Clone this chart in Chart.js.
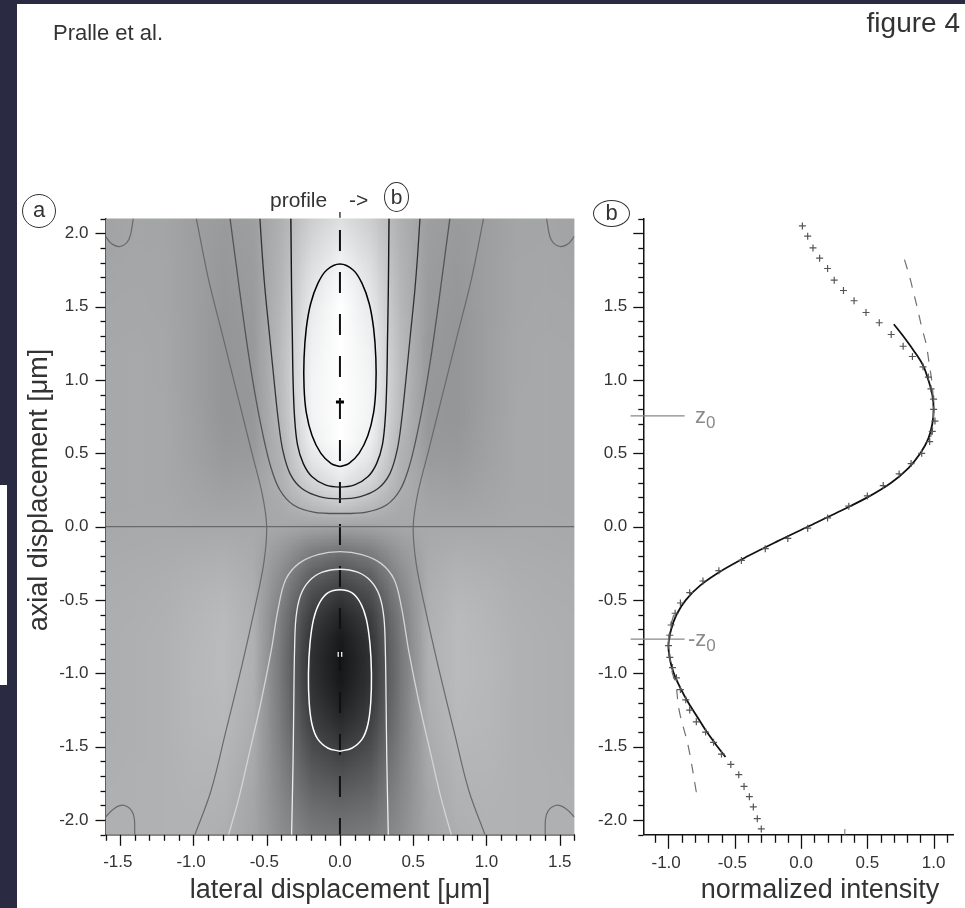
<!DOCTYPE html>
<html><head><meta charset="utf-8">
<script src="https://cdn.jsdelivr.net/npm/chart.js@4.4.1/dist/chart.umd.min.js"></script>
<style>
html,body{margin:0;padding:0;background:#fff;}
body{width:965px;height:908px;position:relative;overflow:hidden;font-family:"Liberation Sans",Arial,sans-serif;}
#frameL{position:absolute;left:0;top:0;width:17px;height:908px;background:#2a2a42;}
#frameT{position:absolute;left:0;top:0;width:965px;height:4px;background:#2a2a42;}
#box{position:absolute;left:0;top:485px;width:7px;height:200px;background:#fff;}
canvas{position:absolute;left:0;top:0;}
.t{position:absolute;color:#333;white-space:nowrap;line-height:1;}
.c{position:absolute;border:1.3px solid #333;border-radius:50%;box-sizing:border-box;color:#333;text-align:center;}
</style></head><body>
<div id="frameT"></div><div id="frameL"></div><div id="box"></div>
<canvas id="ca" width="965" height="908"></canvas>
<canvas id="cb" width="965" height="908"></canvas>
<div class="t" style="left:53px;top:22px;font-size:22px;">Pralle et al.</div>
<div class="t" style="right:5px;top:9px;font-size:28px;">figure 4</div>
<div class="t" style="left:270px;top:189px;font-size:21px;">profile</div>
<div class="t" style="left:349px;top:189px;font-size:21px;">-&gt;</div>
<div class="c" style="left:384px;top:182px;width:25px;height:30px;font-size:21px;line-height:27px;">b</div>
<div class="c" style="left:22px;top:194px;width:34px;height:34px;font-size:22px;line-height:30px;">a</div>
<div class="c" style="left:593px;top:200px;width:37px;height:27px;font-size:22px;line-height:24px;">b</div>
<div class="t" style="left:695px;top:405px;font-size:22px;color:#8a8a8a;">z<sub style="font-size:17px;">0</sub></div>
<div class="t" style="left:688px;top:628px;font-size:22px;color:#8a8a8a;">-z<sub style="font-size:17px;">0</sub></div>
<div class="t" style="left:340px;top:876px;font-size:27px;transform:translateX(-50%);">lateral displacement [μm]</div>
<div class="t" style="left:820px;top:876px;font-size:27px;transform:translateX(-50%);">normalized intensity</div>
<div class="t" style="left:38px;top:490px;font-size:27px;transform:translate(-50%,-50%) rotate(-90deg);">axial displacement [μm]</div>
<script>
// ---------- panel (a): grey-level map, half grid (x >= 0, mirror symmetric) ----------
const heatX = [0, 0.2, 0.4, 0.6, 0.8, 1.0, 1.2, 1.4, 1.6];
const heatZ = [2.1,1.95,1.8,1.65,1.5,1.35,1.2,1.05,0.9,0.75,0.6,0.45,0.3,0.15,0,-0.15,-0.3,-0.45,-0.6,-0.75,-0.9,-1.05,-1.2,-1.35,-1.5,-1.65,-1.8,-1.95,-2.1];
const heatTone = [
 [222,205,176,158,154,158,164,165,162],
 [232,212,178,157,153,158,164,165,163],
 [242,220,180,156,152,158,165,166,164],
 [250,227,182,155,151,158,165,166,165],
 [254,233,184,154,150,158,165,167,166],
 [255,237,186,153,149,158,166,167,166],
 [255,240,188,152,149,158,166,168,167],
 [255,242,189,152,149,158,166,168,167],
 [255,243,188,151,149,158,167,168,167],
 [255,242,186,151,149,159,167,168,167],
 [255,238,182,152,151,160,167,168,167],
 [246,227,178,155,154,161,167,168,167],
 [228,210,176,160,158,163,167,168,167],
 [198,186,170,164,163,165,168,168,167],
 [160,162,166,168,168,168,169,169,168],
 [118,128,152,170,173,172,171,170,169],
 [ 84,100,140,172,178,176,173,172,171],
 [ 58, 78,130,174,182,179,175,173,172],
 [ 38, 62,122,175,185,181,176,174,173],
 [ 26, 52,118,176,186,182,177,175,173],
 [ 22, 48,116,176,186,183,177,175,173],
 [ 24, 50,116,175,186,183,177,175,173],
 [ 32, 56,118,174,185,182,177,175,173],
 [ 45, 65,120,172,184,182,177,175,173],
 [ 60, 76,124,170,182,181,177,175,174],
 [ 76, 88,128,168,180,180,177,176,174],
 [ 92,100,132,166,178,179,177,176,175],
 [106,112,136,165,176,178,177,176,175],
 [118,122,140,164,174,177,177,176,175]
];
// contour lines, right half [x, z] (mirrored to x<0)
const contC1 = [[0,1.79],[0.09,1.75],[0.15,1.66],[0.2,1.52],[0.23,1.35],[0.245,1.15],[0.245,0.95],[0.23,0.78],[0.19,0.62],[0.13,0.5],[0.06,0.43],[0,0.41]];
const contC2 = [[0,0.27],[0.1,0.285],[0.19,0.34],[0.25,0.43],[0.29,0.56],[0.31,0.75],[0.32,1.0],[0.325,1.3],[0.33,1.6],[0.333,1.9],[0.335,2.1]];
const contC3 = [[0,0.19],[0.14,0.205],[0.26,0.26],[0.34,0.36],[0.39,0.52],[0.42,0.72],[0.45,1.0],[0.48,1.3],[0.51,1.6],[0.53,1.85],[0.546,2.1]];
const contC4 = [[0,0.09],[0.18,0.1],[0.32,0.15],[0.41,0.25],[0.47,0.4],[0.52,0.6],[0.57,0.85],[0.62,1.15],[0.67,1.5],[0.71,1.8],[0.75,2.1]];
const contW1 = [[0,-0.43],[0.08,-0.45],[0.14,-0.52],[0.18,-0.63],[0.205,-0.8],[0.215,-1.0],[0.21,-1.2],[0.19,-1.35],[0.15,-1.45],[0.08,-1.51],[0,-1.53]];
const contW2 = [[0,-0.29],[0.12,-0.31],[0.21,-0.37],[0.27,-0.47],[0.3,-0.62],[0.31,-0.85],[0.315,-1.2],[0.32,-1.6],[0.33,-2.1]];
const contW3 = [[0,-0.17],[0.15,-0.19],[0.28,-0.25],[0.37,-0.36],[0.42,-0.55],[0.47,-0.85],[0.54,-1.2],[0.62,-1.55],[0.69,-1.85],[0.76,-2.1]];
const contZero = [[0.98,2.1],[0.9,1.7],[0.8,1.3],[0.7,0.9],[0.6,0.5],[0.53,0.22],[0.5,0],[0.52,-0.25],[0.58,-0.55],[0.67,-0.95],[0.78,-1.4],[0.88,-1.8],[0.99,-2.1]];
const contCornerTop = [[1.41,2.1],[1.44,1.96],[1.5,1.91],[1.56,1.93],[1.6,1.98]];
const contCornerBot = [[1.4,-2.1],[1.41,-1.96],[1.47,-1.9],[1.54,-1.92],[1.6,-1.98]];
const peakMarks = [[0,0.85],[0,-0.87]];
const profileStub = [[0,2.145],[0,2.105]];

// ---------- panel (b): profile along x = 0 ----------
const measZ = [2.05,1.98,1.90,1.83,1.76,1.68,1.61,1.54,1.46,1.39,1.31,1.23,1.16,1.09,1.02,0.94,0.87,0.80,0.72,0.65,0.58,0.50,0.43,0.36,0.28,0.21,0.14,0.06,-0.01,-0.08,-0.15,-0.23,-0.30,-0.37,-0.45,-0.52,-0.59,-0.67,-0.74,-0.81,-0.89,-0.96,-1.03,-1.11,-1.18,-1.25,-1.33,-1.40,-1.47,-1.55,-1.62,-1.69,-1.77,-1.84,-1.91,-1.99,-2.06];
const measI = [0.01,0.05,0.09,0.14,0.20,0.25,0.32,0.40,0.49,0.59,0.68,0.77,0.84,0.92,0.96,0.98,1.00,1.00,1.01,0.99,0.97,0.91,0.83,0.74,0.62,0.50,0.36,0.20,0.05,-0.10,-0.27,-0.45,-0.62,-0.74,-0.84,-0.91,-0.95,-0.98,-0.99,-1.00,-0.99,-0.97,-0.94,-0.91,-0.87,-0.84,-0.79,-0.72,-0.66,-0.60,-0.53,-0.47,-0.43,-0.39,-0.36,-0.33,-0.30];
const fitZ = [1.38,1.30,1.20,1.10,1.00,0.90,0.80,0.70,0.60,0.50,0.40,0.30,0.20,0.10,0.00,-0.10,-0.20,-0.30,-0.40,-0.50,-0.60,-0.70,-0.80,-0.90,-1.00,-1.10,-1.20,-1.30,-1.40,-1.50,-1.57];
const fitI = [0.70,0.77,0.85,0.92,0.96,0.99,1.00,0.99,0.96,0.90,0.81,0.68,0.50,0.28,0.05,-0.18,-0.40,-0.60,-0.76,-0.87,-0.94,-0.98,-1.00,-0.99,-0.96,-0.91,-0.85,-0.78,-0.71,-0.63,-0.57];
const approxUpZ = [1.82,1.70,1.59,1.48,1.36,1.24,1.12,1.00,0.90,0.78,0.66,0.56];
const approxUpI = [0.78,0.82,0.85,0.88,0.91,0.945,0.965,0.985,0.995,1.00,0.99,0.96];
const approxLoZ = [-0.60,-0.70,-0.80,-0.90,-1.00,-1.07,-1.25,-1.50,-1.81,-1.86];
const approxLoI = [-0.96,-0.99,-1.00,-0.99,-0.97,-0.945,-0.92,-0.85,-0.79,-0.78];
const z0 = 0.755, minusZ0 = -0.766;
const z0LineX = [-1.286, -0.878];

// ---------- helpers ----------
const FONT = 'Liberation Sans';
// x labels: digits centred on the tick, the minus sign hanging to the left
const fmt = (skip, padNeg) => (v) => { const k = Math.round(v*10); if (Math.abs(v*10-k) > 1e-6 || k % 5 !== 0 || skip.includes(k)) return ''; const s = (k/10).toFixed(1); return (padNeg && k < 0) ? s + ' ' : s; };
const pts = (arr) => arr.map(p => ({x:p[0], y:p[1]}));
const mirrorFull = (half) => { const left = half.slice().reverse().map(p => [-p[0], p[1]]); return pts(left.concat(half.slice(1))); };
const mirrorOnly = (half) => pts(half.map(p => [-p[0], p[1]]));
const zipXY = (xs, ys) => xs.map((x, i) => ({x: x, y: ys[i]}));

const tickMarks = {
  id: 'tickMarks',
  afterDraw(chart, args, o) {
    const ctx = chart.ctx; ctx.save(); ctx.strokeStyle = '#111'; ctx.lineWidth = 1.3;
    ['x','y'].forEach(id => {
      const s = chart.scales[id];
      s.ticks.forEach(t => {
        const v = t.value, k = Math.round(v*10);
        if (Math.abs(v*10-k) > 1e-6) return;
        const major = k % 5 === 0;
        const p = Math.round(s.getPixelForValue(v)) + 0.5;
        ctx.beginPath();
        if (id === 'x') { const L = major ? o.xMajor : o.xMinor; ctx.moveTo(p, s.top); ctx.lineTo(p, s.top + L); }
        else { const L = major ? o.yMajor : o.yMinor; ctx.moveTo(s.right, p); ctx.lineTo(s.right - L, p); }
        ctx.stroke();
      });
    });
    ctx.restore();
  }
};

const heatPlugin = {
  id: 'heat',
  beforeDatasetsDraw(chart) {
    const {ctx, chartArea: a, scales: {x, y}} = chart;
    const nR = heatZ.length, nH = heatX.length, nC = 2*nH - 1;
    const off = document.createElement('canvas'); off.width = nC; off.height = nR;
    const oc = off.getContext('2d'); const img = oc.createImageData(nC, nR);
    for (let r = 0; r < nR; r++) for (let c = 0; c < nC; c++) {
      const v = heatTone[r][Math.abs(c - (nH - 1))]; const i = 4*(r*nC + c);
      img.data[i] = v; img.data[i+1] = v + 1; img.data[i+2] = v + 2; img.data[i+3] = 255;
    }
    oc.putImageData(img, 0, 0);
    const dx = heatX[1] - heatX[0], dz = heatZ[0] - heatZ[1];
    const x0 = x.getPixelForValue(-heatX[nH-1] - dx/2), x1 = x.getPixelForValue(heatX[nH-1] + dx/2);
    const y0 = y.getPixelForValue(heatZ[0] + dz/2), y1 = y.getPixelForValue(heatZ[nR-1] - dz/2);
    ctx.save(); ctx.beginPath(); ctx.rect(a.left, a.top, a.right - a.left, a.bottom - a.top); ctx.clip();
    ctx.imageSmoothingEnabled = true;
    ctx.drawImage(off, x0, y0, x1 - x0, y1 - y0);
    ctx.restore();
  }
};

const axisCommon = (min, max, skip, pad, fit, padNeg) => ({
  type: 'linear', min: min, max: max,
  grid: {display: false, drawTicks: false},
  border: {display: true, color: '#111', width: 1.5},
  ticks: {stepSize: 0.1, autoSkip: false, includeBounds: false, maxRotation: 0, minRotation: 0, padding: pad, color: '#333', font: {family: FONT, size: 17}, callback: fmt(skip, padNeg)},
  afterFit: fit
});

const lineDS = (data, color, width, extra) => Object.assign({data: data, showLine: true, borderColor: color, borderWidth: width, pointRadius: 0, fill: false, tension: 0.35}, extra || {});

// ---------- chart (a) ----------
const dsA = [
  lineDS(mirrorOnly(contZero), '#6a6a6a', 1.2),
  lineDS(pts(contZero), '#6a6a6a', 1.2),
  lineDS(pts(contCornerTop), '#6a6a6a', 1.2),
  lineDS(mirrorOnly(contCornerTop), '#6a6a6a', 1.2),
  lineDS(pts(contCornerBot), '#6a6a6a', 1.2),
  lineDS(mirrorOnly(contCornerBot), '#6a6a6a', 1.2),
  lineDS(pts([[-1.6,0],[1.6,0]]), '#6a6a6a', 1.2, {tension: 0}),
  lineDS(mirrorFull(contC4), '#555', 1.3),
  lineDS(mirrorFull(contC3), '#333', 1.3),
  lineDS(mirrorFull(contC2), '#151515', 1.4),
  lineDS(mirrorFull(contC1), '#000', 1.5),
  lineDS(mirrorFull(contW3), '#d4d4d4', 1.3),
  lineDS(mirrorFull(contW2), '#eeeeee', 1.3),
  lineDS(mirrorFull(contW1), '#ffffff', 1.5),
  lineDS(pts([[0,2.1],[0,-2.1]]), '#111', 2, {tension: 0, borderDash: [21,21], borderDashOffset: 30.6}),
  lineDS(pts(profileStub), '#222', 1.3, {tension: 0, clip: false}),
  {data: pts([peakMarks[0]]), showLine: false, pointStyle: 'line', pointRadius: 4, borderColor: '#000', borderWidth: 3},
  {data: pts([peakMarks[1]]), showLine: false, pointStyle: 'rect', pointRadius: 2.5, backgroundColor: '#222', borderColor: '#fff', borderWidth: 1.2}
];
new Chart(document.getElementById('ca'), {
  type: 'scatter',
  data: {datasets: dsA},
  plugins: [heatPlugin, tickMarks],
  options: {
    responsive: false, animation: false, devicePixelRatio: 1,
    layout: {padding: {left: 35.5, right: 390.6, top: 218.6, bottom: 33.2}},
    plugins: {legend: {display: false}, tooltip: {enabled: false}, tickMarks: {xMajor: 11, xMinor: 6, yMajor: 10, yMinor: 5}},
    scales: {
      x: axisCommon(-1.6, 1.6, [], 17, s => { s.height = 40; }, true),
      y: axisCommon(-2.1, 2.1, [], 17, s => { s.width = 70; }, false)
    }
  }
});

// ---------- chart (b) ----------
const dsB = [
  {data: zipXY(measI, measZ), showLine: false, pointStyle: 'cross', pointRadius: 3.5, borderColor: '#555', borderWidth: 1.2},
  lineDS(zipXY(approxUpI, approxUpZ), '#707070', 1.2, {borderDash: [10,9]}),
  lineDS(zipXY(approxLoI, approxLoZ), '#707070', 1.2, {borderDash: [10,9]}),
  lineDS(zipXY(fitI, fitZ), '#111', 1.8),
  lineDS(zipXY(z0LineX, [z0, z0]), '#888', 1.2, {tension: 0, clip: false}),
  lineDS(zipXY(z0LineX, [minusZ0, minusZ0]), '#888', 1.2, {tension: 0, clip: false}),
  lineDS(pts([[0.33,-2.1],[0.33,-2.06]]), '#888', 1.2, {tension: 0})
];
new Chart(document.getElementById('cb'), {
  type: 'scatter',
  data: {datasets: dsB},
  plugins: [tickMarks],
  options: {
    responsive: false, animation: false, devicePixelRatio: 1,
    layout: {padding: {left: 573.3, right: 0, top: 218.6, bottom: 33.2}},
    plugins: {legend: {display: false}, tooltip: {enabled: false}, tickMarks: {xMajor: 14, xMinor: 8, yMajor: 10, yMinor: 5}},
    scales: {
      x: axisCommon(-1.19, 1.152, [], 18, s => { s.height = 40; }, true),
      y: axisCommon(-2.1, 2.1, [20], 16, s => { s.width = 70; }, false)
    }
  }
});
</script>
</body></html>
